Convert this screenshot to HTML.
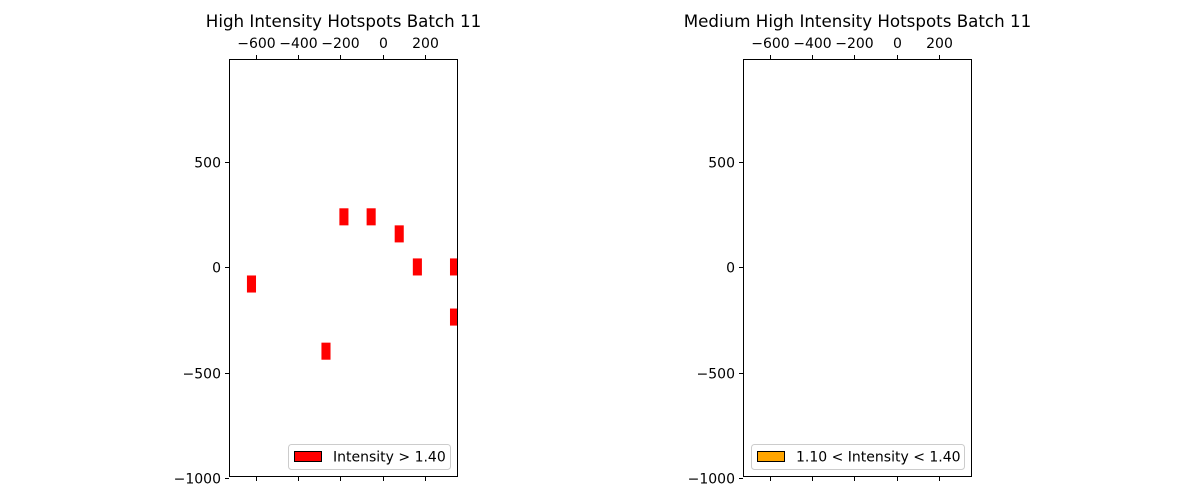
<!DOCTYPE html>
<html><head><meta charset="utf-8"><style>
body{margin:0;background:#fff}
svg{display:block;font-family:"DejaVu Sans","Liberation Sans",sans-serif}
</style></head><body>
<svg id="chart" width="1200" height="500" viewBox="0 0 1200 500"></svg>
<script>
const xTicks = [-600, -400, -200, 0, 200];
const yTicks = [500, 0, -500, -1000];
const highX = [-643, -290, -205, -76, 57, 143, 319, 319];
const highY = [-119, -438, 200, 200, 119, -38, -38, -276];
const rectW = 43;
const rectH = 81;
const medX = [];
const medY = [];
const titles = ["High Intensity Hotspots Batch 11", "Medium High Intensity Hotspots Batch 11"];
const legends = ["Intensity > 1.40", "1.10 < Intensity < 1.40"];

const NS = "http://www.w3.org/2000/svg";
const svgEl = document.getElementById('chart');
function mk(tag, attrs, parent){const e=document.createElementNS(NS,tag);for(const k in attrs)e.setAttribute(k,attrs[k]);(parent||svgEl).appendChild(e);return e;}

const panels = [
  {left:229, name:'high', xs:highX, ys:highY, color:'#ff0000', legend:legends[0], title:titles[0], legX:288, legW:162},
  {left:743, name:'medium', xs:medX, ys:medY, color:'#ffa500', legend:legends[1], title:titles[1], legX:751, legW:213}
];
const axTop=59, axBottom=477, axWidth=229;
const xMin=-728, xMax=357, yMin=-995, yMax=990;

panels.forEach(p=>{
  const g = mk('g',{});
  
  
  const sx = v => p.left + (v - xMin)/(xMax-xMin)*axWidth;
  const sy = v => axBottom - (v - yMin)/(yMax-yMin)*(axBottom-axTop);
  const clipId = 'clip-'+p.name;
  const cp = mk('clipPath',{id:clipId},g);
  mk('rect',{x:p.left,y:axTop,width:axWidth,height:axBottom-axTop},cp);
  const marks = mk('g',{'clip-path':'url(#'+clipId+')'},g);
  p.xs.forEach((x,i)=>{
    const r = mk('rect',{x:sx(x),y:sy(p.ys[i]+rectH),width:sx(x+rectW)-sx(x),height:sy(p.ys[i])-sy(p.ys[i]+rectH),fill:p.color},marks);
    
    
  });
  const frame = mk('rect',{x:p.left+0.5,y:axTop+0.5,width:axWidth-1,height:axBottom-axTop-1,fill:'none',stroke:'#000','stroke-width':1},g);
  
  
  xTicks.forEach(t=>{
    const x = Math.round(sx(t))+0.5;
    mk('line',{x1:x,x2:x,y1:axTop,y2:axTop-4,stroke:'#000'},g);
    mk('line',{x1:x,x2:x,y1:axBottom,y2:axBottom+4,stroke:'#000'},g);
    const tx = mk('text',{x:x,y:axTop-11,'text-anchor':'middle','font-size':14},g);
    tx.textContent = t<0 ? '\u2212'+Math.abs(t) : String(t);
    
    
  });
  yTicks.forEach(t=>{
    const y = Math.round(sy(t))+0.5;
    mk('line',{x1:p.left,x2:p.left-4,y1:y,y2:y,stroke:'#000'},g);
    const tx = mk('text',{x:p.left-8,y:y+5,'text-anchor':'end','font-size':14},g);
    tx.textContent = t<0 ? '\u2212'+Math.abs(t) : String(t);
    
    
  });
  const ti = mk('text',{x:p.left+axWidth/2,y:27,'text-anchor':'middle','font-size':16.7},g);
  ti.textContent = p.title;
  
  
  const lg = mk('g',{},g);
  
  
  mk('rect',{x:p.legX+0.5,y:444.5,width:p.legW,height:25,rx:3,fill:'#fff',stroke:'#ccc'},lg);
  mk('rect',{x:p.legX+6.5,y:451.5,width:27,height:10,fill:p.color,stroke:'#000'},lg);
  const lt = mk('text',{x:p.legX+45,y:461.5,'font-size':14},lg);
  lt.textContent = p.legend;
  
  
});
</script>
</body></html>
